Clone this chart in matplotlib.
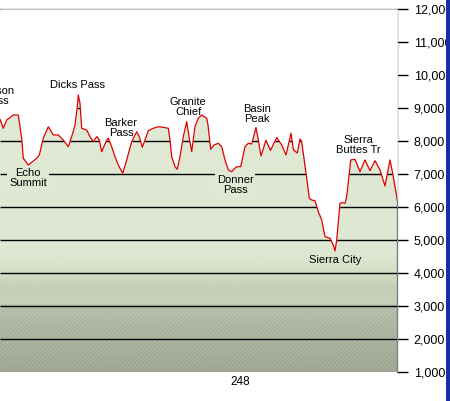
import matplotlib

matplotlib.use("Agg")

import matplotlib.pyplot as plt
import numpy as np
from matplotlib.colors import LinearSegmentedColormap
from matplotlib.patches import Polygon, Rectangle

plt.rcParams["font.family"] = ["Liberation Sans", "DejaVu Sans"]

# trail distance (chart units) and elevation in feet
distance = [
    0, 3.3, 6.7, 13.3, 18.3, 21.7, 23.3, 28.3, 36.7, 39.3, 43.3, 48.3, 53.3, 58.3,
    63.3, 68.3, 72.7, 75, 77.3, 78.3, 80, 81.7, 86.7, 90, 93.3, 96.7, 99.3, 101.7,
    106.7, 108.3, 111.7, 115, 118.3, 122.7, 126.7, 131.7, 136.7, 139.3, 142.3, 145,
    148.3, 153.3, 158.3, 163.3, 168.3, 170, 171.7, 175, 177.3, 180, 183.3, 186.7,
    189.3, 191.7, 195, 198.3, 201.7, 206.7, 208, 210.7, 214, 218.3, 221.7, 225,
    228.3, 231.7, 235, 237.3, 240.7, 245, 248.3, 251.7, 256, 258.3, 261, 266, 270.5,
    276.7, 281.7, 286, 291, 293.5, 297.3, 300, 301.7, 303.3, 306.7, 309.3, 311.7,
    315, 318.3, 321.7, 325, 330, 333.3, 335, 336.7, 340, 342.7, 345, 346.7, 349.3,
    350.7, 355, 360, 365, 370, 375, 380, 385, 390, 392.7, 395, 397.3,
]
elevation = [
    8660, 8385, 8636, 8788, 8788, 8082, 7476, 7273, 7476, 7576, 8082, 8434, 8182, 8182,
    8031, 7828, 8234, 8485, 9040, 9394, 9143, 8385, 8334, 8131, 7979, 8131, 8031, 7676,
    8031, 8082, 7828, 7525, 7273, 7022, 7425, 7979, 8282, 8131, 7810, 8031,
    8312, 8385, 8434, 8415, 8385, 8031, 7525, 7222, 7143, 7525, 8131, 8585,
    8082, 7676, 8434, 8688, 8788, 8688, 8485, 7749, 7879, 7931, 7828, 7425,
    7122, 7070, 7182, 7222, 7222, 7828, 7931, 7909, 8409, 8031, 7546, 8020, 7713,
    8106, 7879, 7576, 8234, 7728, 7637, 8060, 7979, 7628, 6870, 6264, 6213,
    6192, 5858, 5607, 5101, 5052, 4849, 4667, 5000, 6113, 6133, 6113, 6313, 7022,
    7425, 7445, 7070, 7425, 7101, 7404, 7122, 6637, 7425, 7022, 6616, 6213,
]

# place names: (text, distance, elevation of text centre)
places = [
    ("Carson\nPass", -4, 9360),
    ("Dicks Pass", 78, 9700),
    ("Barker\nPass", 121, 8400),
    ("Granite\nChief", 188, 9030),
    ("Basin\nPeak", 257, 8820),
    ("Sierra\nButtes Tr", 358, 7880),
    ("Sierra City", 335, 4400),
]
places_on_grid = [
    ("Echo\nSummit", 28, 6880),
    ("Donner\nPass", 235, 6660),
]

elev_ticks = list(range(1000, 13000, 1000))
elev_labels = [f"{v:,}" for v in elev_ticks]
mile_tick = 240
mile_label = "248"

x_max = 397
y_min, y_max = 1000, 12000

figure = plt.figure(figsize=(4.5, 4.01), dpi=100)
axis = figure.add_axes([0, 29 / 401, x_max / 450, 363 / 401])
axis.set_xlim(0, x_max)
axis.set_ylim(y_min, y_max)

# ground fill: vertical gradient clipped to the terrain polygon
ground_cmap = LinearSegmentedColormap.from_list(
    "ground",
    [
        (0.0, "#98a08b"),
        (0.10, "#a6ae98"),
        (0.18, "#b2baa4"),
        (0.19, "#c6ceb6"),
        (0.23, "#c2cab1"),
        (0.28, "#d3ddc4"),
        (0.33, "#dce6cf"),
        (1.0, "#dfe9d3"),
    ],
)
gradient = np.linspace(0, 1, 256).reshape(-1, 1)
image = axis.imshow(
    gradient,
    extent=[0, x_max, y_min, y_max],
    origin="lower",
    aspect="auto",
    cmap=ground_cmap,
    zorder=1,
)
ground = Polygon(
    list(zip(distance, elevation)) + [(distance[-1], y_min), (distance[0], y_min)],
    closed=True,
    facecolor="none",
    edgecolor="none",
    transform=axis.transData,
)
axis.add_patch(ground)
image.set_clip_path(ground)

texture = axis.fill_between(
    distance, elevation, y_min, facecolor="none", edgecolor=(1, 1, 1, 0.16),
    hatch="////////", linewidth=0, zorder=2,
)

grid = axis.hlines(elev_ticks[1:-1], 0, x_max, color="black", linewidth=1.0, zorder=3)
grid.set_clip_path(ground)

axis.fill_between(distance, elevation, y_max, color="white", linewidth=0, zorder=4)
axis.plot(distance, elevation, color="#dd0000", linewidth=0.9, zorder=5)

for text, x, y in places:
    axis.text(x, y, text, ha="center", va="center", fontsize=8, linespacing=1.0,
              zorder=6, clip_on=False)
for text, x, y in places_on_grid:
    axis.text(x, y, text, ha="center", va="center", fontsize=8, linespacing=1.0,
              zorder=6, bbox=dict(facecolor="#dfe9d3", edgecolor="none", pad=1.5))

axis.yaxis.tick_right()
axis.set_yticks(elev_ticks)
axis.set_yticklabels(elev_labels, fontsize=9)
axis.tick_params(axis="y", length=8, width=1, color="black", pad=4)
axis.set_xticks([mile_tick])
axis.set_xticklabels([mile_label], fontsize=8.5)
axis.tick_params(axis="x", length=0, pad=3)

for side in ["left", "bottom"]:
    axis.spines[side].set_visible(False)
for side in ["top", "right"]:
    axis.spines[side].set_color("#808080")
    axis.spines[side].set_linewidth(1.0)

figure.patches.append(
    Rectangle((446 / 450, 0), 4 / 450, 1, transform=figure.transFigure,
              facecolor="#1a2ea8", edgecolor="none", zorder=10)
)

figure.savefig("out.png", dpi=100)
plt.close(figure)
